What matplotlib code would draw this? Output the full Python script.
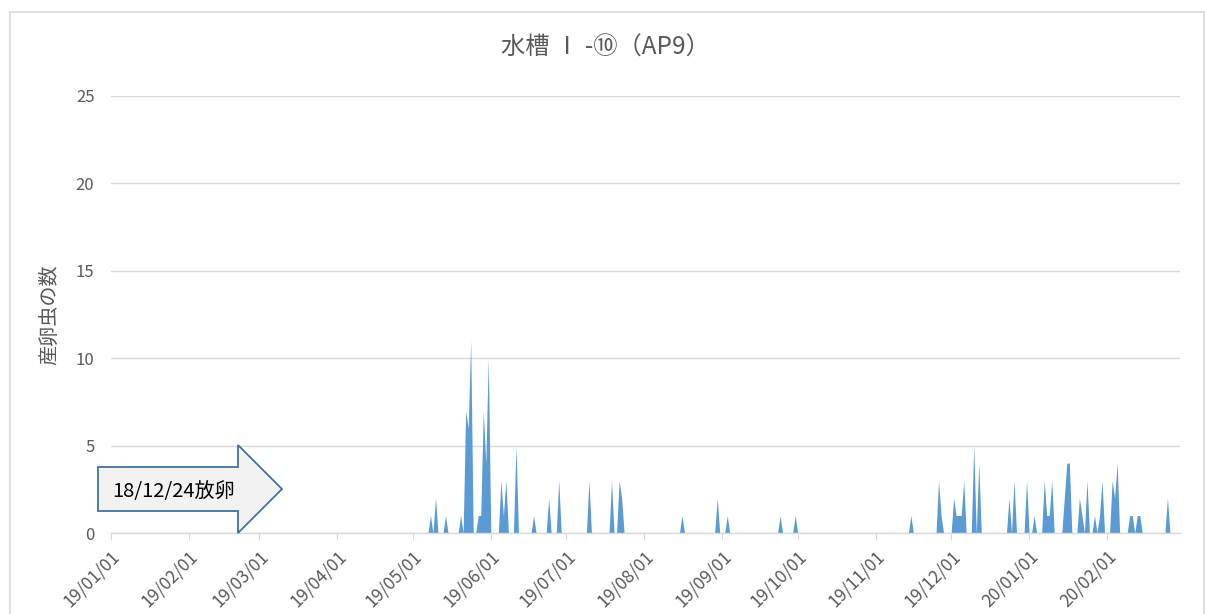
import pandas as pd
import matplotlib
matplotlib.use('Agg')
import matplotlib.pyplot as plt
from matplotlib.patches import Polygon, Rectangle

# daily counts (days not listed are 0)
egg_dates = [
    '2019-05-08', '2019-05-10', '2019-05-14', '2019-05-20', '2019-05-22',
    '2019-05-23', '2019-05-24', '2019-05-27', '2019-05-28', '2019-05-29',
    '2019-05-30', '2019-05-31', '2019-06-05', '2019-06-06', '2019-06-07',
    '2019-06-11', '2019-06-18', '2019-06-24', '2019-06-28', '2019-07-10',
    '2019-07-19', '2019-07-22', '2019-07-23', '2019-08-16', '2019-08-30',
    '2019-09-03', '2019-09-24', '2019-09-30', '2019-11-15', '2019-11-26',
    '2019-11-27', '2019-12-02', '2019-12-03', '2019-12-04', '2019-12-05',
    '2019-12-06', '2019-12-10', '2019-12-12', '2019-12-24', '2019-12-26',
    '2019-12-31', '2020-01-03', '2020-01-07', '2020-01-08', '2020-01-09',
    '2020-01-10', '2020-01-15', '2020-01-16', '2020-01-17', '2020-01-21',
    '2020-01-22', '2020-01-24', '2020-01-27', '2020-01-29', '2020-01-30',
    '2020-02-03', '2020-02-04', '2020-02-05', '2020-02-10', '2020-02-11',
    '2020-02-13', '2020-02-14', '2020-02-25',
]
egg_counts = [
    1, 2, 1, 1, 7,
    6, 11, 1, 1, 7,
    4, 10, 3, 1, 3,
    5, 1, 2, 3, 3,
    3, 3, 2, 1, 2,
    1, 1, 1, 1, 3,
    1, 2, 1, 1, 1,
    3, 5, 4, 2, 3,
    3, 1, 3, 1, 1,
    3, 2, 4, 4, 2,
    1, 3, 1, 1, 3,
    3, 2, 4, 1, 1,
    1, 1, 2,
]
start_date = '2019-01-01'
end_date = '2020-02-29'
month_ticks = pd.date_range('2019-01-01', '2020-02-01', freq='MS')
y_ticks = [0, 5, 10, 15, 20, 25]

title = '水槽 Ⅰ -⑩（AP9）'
ylabel = '産卵虫の数'
note = '18/12/24放卵'

plt.rcParams['font.family'] = ['Noto Sans CJK JP', 'DejaVu Sans']
grey_text = '#595959'
grid_col = '#d9d9d9'

days = pd.date_range(start_date, end_date, freq='D')
series = pd.Series(0.0, index=days)
series[pd.to_datetime(egg_dates)] = egg_counts

W, H = 1206, 614
fig = plt.figure(figsize=(W / 100, H / 100), dpi=100)
ax = fig.add_axes([111 / W, 1 - 533 / H, (1180 - 111) / W, (533 - 96) / H])


def fpos(x, y):
    # pixel position (top-left origin) -> figure fraction
    return x / W, 1 - y / H


# chart border
fig.patches.append(Rectangle(fpos(10, 640), (1204 - 10) / W, (640 - 12) / H,
                             transform=fig.transFigure, fill=False,
                             edgecolor=grid_col, linewidth=1.2))

ax.fill_between(series.index, series.values, 0, color='#5b9bd5', linewidth=0)

ax.set_xlim(pd.Timestamp(start_date), pd.Timestamp('2020-03-01'))
ax.set_ylim(0, 25)
ax.set_yticks(y_ticks)
ax.set_xticks(month_ticks)
ax.set_xticklabels([d.strftime('%y/%m/%d') for d in month_ticks],
                   rotation=45, ha='right', rotation_mode='anchor')

ax.grid(axis='y', color=grid_col, linewidth=1)
ax.set_axisbelow(True)
for side in ['top', 'right', 'left']:
    ax.spines[side].set_visible(False)
ax.spines['bottom'].set_color(grid_col)
ax.spines['bottom'].set_linewidth(1)
ax.tick_params(axis='y', length=0, pad=12, labelsize=12, labelcolor=grey_text)
ax.tick_params(axis='x', length=5, color=grid_col, pad=5, labelsize=12.5,
               labelcolor=grey_text)

fig.text(*fpos(605, 48), title, ha='center', va='center', fontsize=17.5,
         color=grey_text)
fig.text(*fpos(50, 315), ylabel, ha='center', va='center', rotation=90,
         fontsize=14.5, color=grey_text)

# block arrow annotation
arrow_px = [(98, 467), (238, 467), (238, 445), (282, 489),
            (238, 533), (238, 511), (98, 511)]
fig.patches.append(Polygon([fpos(x, y) for x, y in arrow_px], closed=True,
                           transform=fig.transFigure, facecolor='#f2f2f2',
                           edgecolor='#41719c', linewidth=1.3))
fig.text(*fpos(112, 492), note, ha='left', va='center', fontsize=14.5,
         color='black')

fig.savefig('out.png', dpi=100)
